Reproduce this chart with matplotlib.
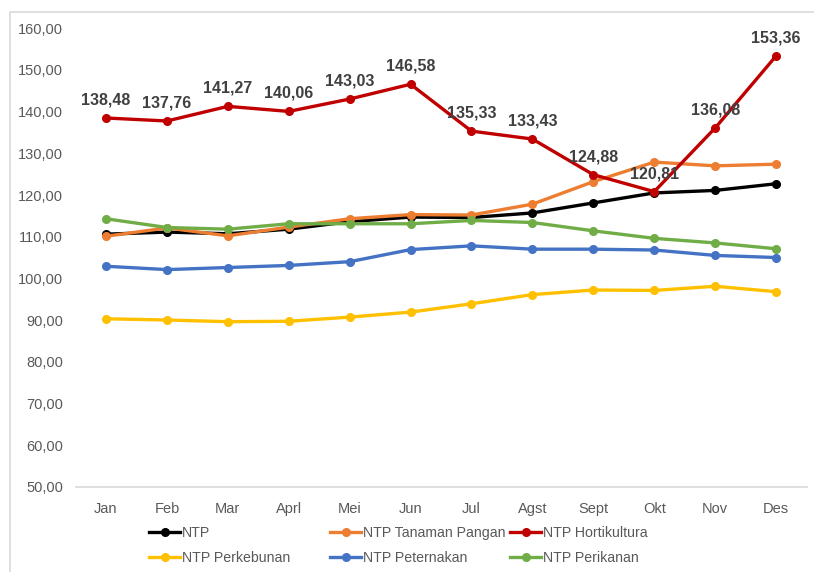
import matplotlib.pyplot as plt
from matplotlib.patches import Rectangle
from matplotlib.ticker import FuncFormatter

plt.rcParams['font.family'] = ['Liberation Sans', 'DejaVu Sans']

# bulan
months = ['Jan', 'Feb', 'Mar', 'Aprl', 'Mei', 'Jun', 'Jul', 'Agst', 'Sept', 'Okt', 'Nov', 'Des']

# nilai tukar petani per subsektor
ntp = [110.6, 111.1, 110.7, 111.8, 113.6, 114.7, 114.6, 115.7, 118.1, 120.5, 121.1, 122.7]
tanaman_pangan = [110.1, 112.1, 110.2, 112.3, 114.3, 115.3, 115.2, 117.8, 123.2, 127.9, 127.0, 127.4]
hortikultura = [138.48, 137.76, 141.27, 140.06, 143.03, 146.58, 135.33, 133.43, 124.88, 120.81, 136.08, 153.36]
perkebunan = [90.3, 90.0, 89.6, 89.7, 90.7, 91.9, 93.9, 96.1, 97.2, 97.1, 98.1, 96.8]
peternakan = [102.9, 102.1, 102.6, 103.1, 104.0, 106.9, 107.8, 107.0, 107.0, 106.8, 105.5, 105.0]
perikanan = [114.3, 112.2, 111.8, 113.1, 113.1, 113.1, 113.9, 113.4, 111.4, 109.6, 108.5, 107.1]

series = [
    ('NTP', ntp, '#000000'),
    ('NTP Tanaman Pangan', tanaman_pangan, '#ED7D31'),
    ('NTP Hortikultura', hortikultura, '#C00000'),
    ('NTP Perkebunan', perkebunan, '#FFC000'),
    ('NTP Peternakan', peternakan, '#4472C4'),
    ('NTP Perikanan', perikanan, '#70AD47'),
]

fig = plt.figure(figsize=(8.14, 5.72), dpi=100)
ax = fig.add_axes([0.0928, 0.1491, 0.898, 0.8014])

x = list(range(len(months)))
lines = {}
for name, vals, col in series:
    ln, = ax.plot(x, vals, color=col, lw=2.4, marker='o', ms=5.5, label=name)
    lines[name] = ln

# label nilai hortikultura
for xi, v in zip(x, hortikultura):
    ax.annotate(f'{v:.2f}'.replace('.', ','), (xi, v), xytext=(0, 13),
                textcoords='offset points', ha='center', va='center',
                fontsize=11.5, fontweight='bold', color='#404040')

ax.set_xlim(-0.5, 11.5)
ax.set_ylim(50, 160)
ax.set_yticks(range(50, 161, 10))
ax.yaxis.set_major_formatter(FuncFormatter(lambda v, p: f'{v:.2f}'.replace('.', ',')))
ax.set_xticks(x)
ax.set_xticklabels(months)
ax.tick_params(axis='both', length=0, labelsize=10.5, colors='#595959')
ax.tick_params(axis='x', pad=11)
ax.tick_params(axis='y', pad=9)
for s in ['top', 'right', 'left']:
    ax.spines[s].set_visible(False)
ax.spines['bottom'].set_color('#D9D9D9')
ax.spines['bottom'].set_linewidth(1.2)

# legenda: tiga kolom dengan lebar sama
columns = [['NTP', 'NTP Perkebunan'],
           ['NTP Tanaman Pangan', 'NTP Peternakan'],
           ['NTP Hortikultura', 'NTP Perikanan']]
col_left = [149, 330, 510]
for names, xl in zip(columns, col_left):
    leg = fig.legend([lines[n] for n in names], names, loc='center left',
                     bbox_to_anchor=(xl / 814, 0.047), frameon=False,
                     fontsize=10.2, handlelength=2.2, handletextpad=0.1,
                     labelspacing=0.77, borderpad=0, borderaxespad=0)
    for t in leg.get_texts():
        t.set_color('#595959')

# bingkai grafik
fig.patches.append(Rectangle((10 / 814, -0.05), 1.2, 1.05 - 12 / 572,
                             transform=fig.transFigure, fill=False,
                             edgecolor='#D9D9D9', lw=1.2))

fig.savefig('out.png', dpi=100)
